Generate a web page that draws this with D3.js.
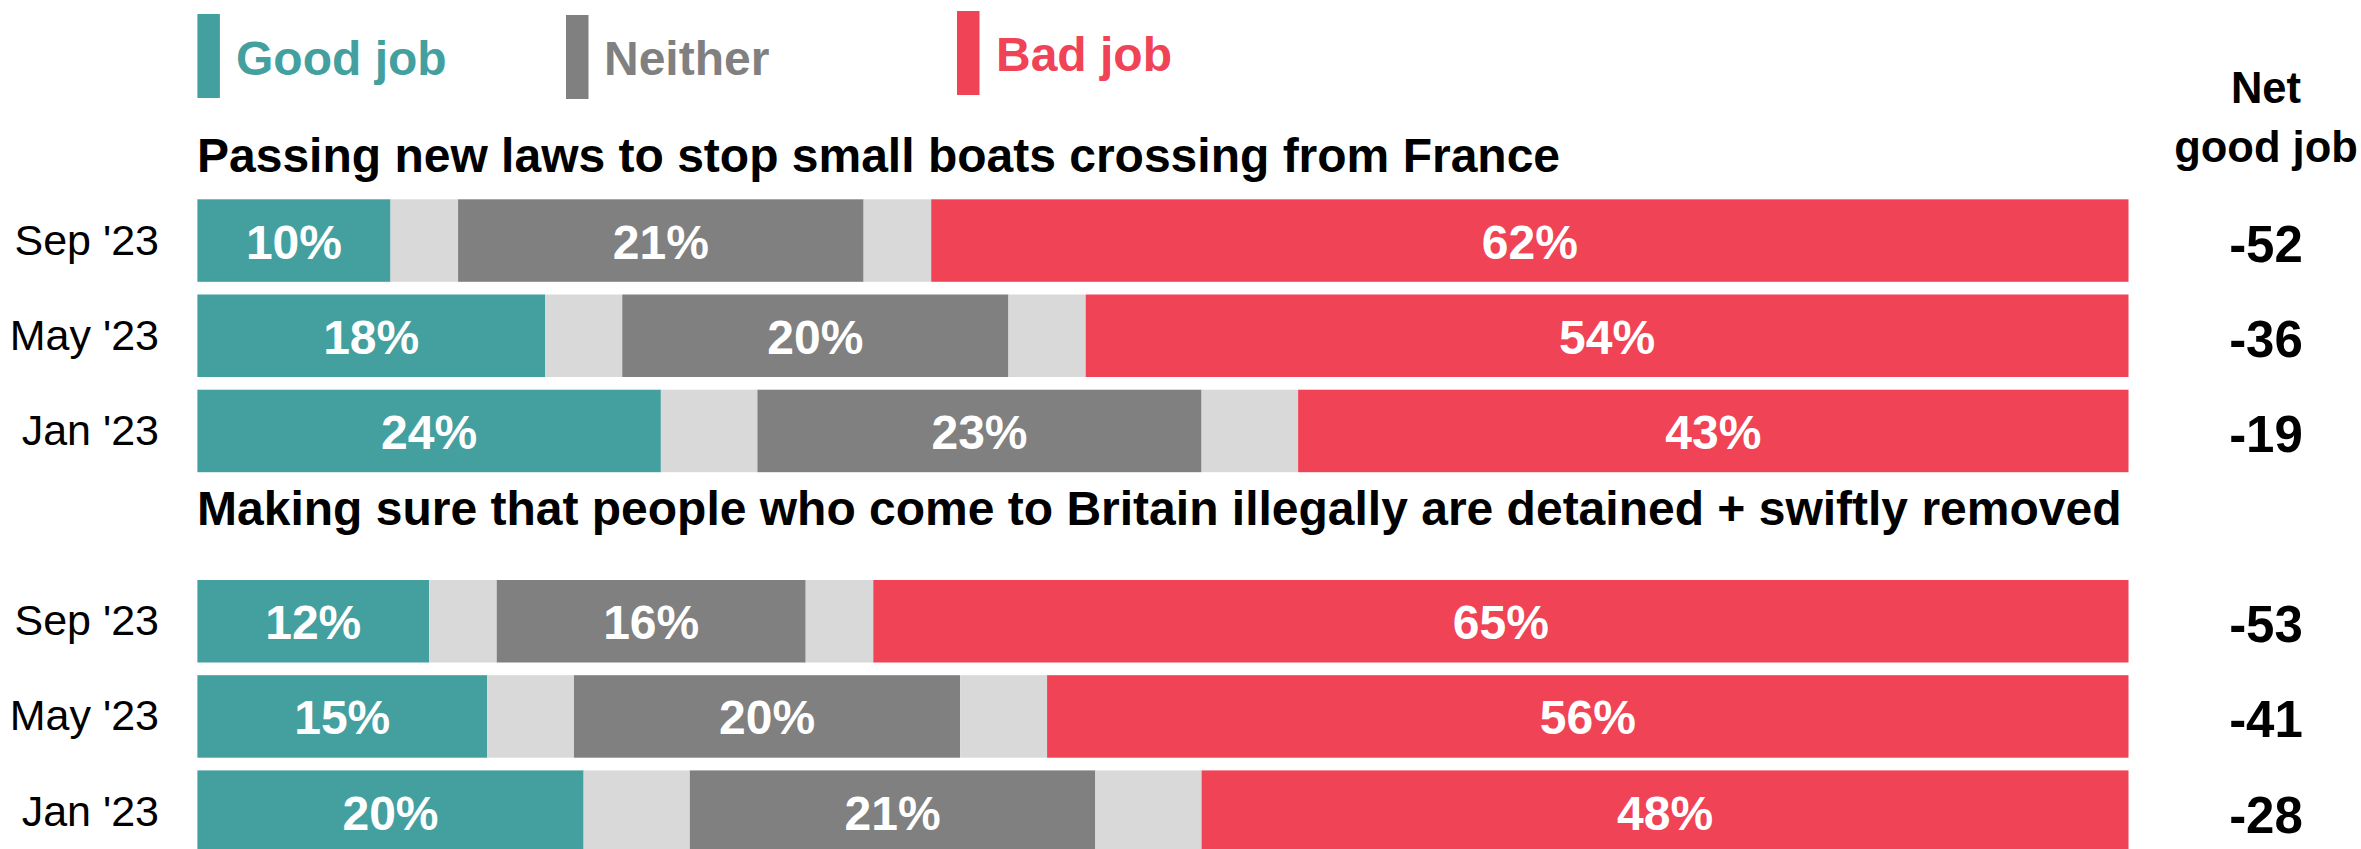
<!DOCTYPE html>
<html>
<head>
<meta charset="utf-8">
<script src="https://cdn.jsdelivr.net/npm/d3@7"></script>
<style>
  html, body { margin: 0; padding: 0; background: #ffffff; }
  svg { display: block; font-family: "Liberation Sans", Arial, sans-serif; }
</style>
</head>
<body>
<svg id="chart" width="2361" height="849"></svg>
<script>
// ---- data ----
const periods = ["Sep '23", "May '23", "Jan '23"];
const questions = [
  "Passing new laws to stop small boats crossing from France",
  "Making sure that people who come to Britain illegally are detained + swiftly removed"
];
const goodJob1 = [10, 18, 24];
const neither1 = [21, 20, 23];
const badJob1  = [62, 54, 43];
const net1     = [-52, -36, -19];
const goodJob2 = [12, 15, 20];
const neither2 = [16, 20, 21];
const badJob2  = [65, 56, 48];
const net2     = [-53, -41, -28];
const legendLabels = ["Good job", "Neither", "Bad job"];
const netHeader = ["Net", "good job"];

// ---- styles ----
const COL_GOOD = "#43a09f", COL_NEI = "#808080", COL_BAD = "#f04356", COL_DK = "#d9d9d9";

const svg = d3.select("#chart");
const x = d3.scaleLinear().domain([0, 100]).range([197.4, 2128.5]);

const panels = [
  { title: questions[0], titleY: 172, top: 199.3, good: goodJob1, nei: neither1, bad: badJob1, net: net1 },
  { title: questions[1], titleY: 525, top: 580,   good: goodJob2, nei: neither2, bad: badJob2, net: net2 }
];

// legend
const legendPos = [
  { bx: 197.4, by: 14, tx: 236, ty: 75, c: COL_GOOD },
  { bx: 566,   by: 15, tx: 604, ty: 75, c: COL_NEI },
  { bx: 957,   by: 11, tx: 996, ty: 71, c: COL_BAD }
];
legendLabels.forEach((lab, i) => {
  const p = legendPos[i];
  svg.append("rect").attr("x", p.bx).attr("y", p.by).attr("width", 22.5).attr("height", 84).attr("fill", p.c);
  svg.append("text").attr("x", p.tx).attr("y", p.ty).attr("fill", p.c)
    .attr("font-size", 48).attr("font-weight", "bold").text(lab);
});

// net header
const netX = 2266;
svg.append("text").attr("x", netX).attr("y", 103).attr("text-anchor", "middle")
  .attr("font-size", 43.5).attr("font-weight", "bold").attr("fill", "#000").text(netHeader[0]);
svg.append("text").attr("x", netX).attr("y", 162).attr("text-anchor", "middle")
  .attr("font-size", 43.5).attr("font-weight", "bold").attr("fill", "#000").text(netHeader[1]);

panels.forEach(pn => {
  const step = 95.2, bar = 82.5;
  const y = d3.scaleBand().domain(periods)
    .range([pn.top, pn.top + step * (periods.length - 1) + bar])
    .paddingInner((step - bar) / step).paddingOuter(0).align(0);

  svg.append("text").attr("x", 197).attr("y", pn.titleY)
    .attr("font-size", 48).attr("font-weight", "bold").attr("fill", "#000").text(pn.title);

  periods.forEach((per, i) => {
    const g = pn.good[i], n = pn.nei[i], b = pn.bad[i];
    const dkHalf = (100 - g - n - b) / 2;
    const segs = [
      { v: g, c: COL_GOOD, lab: g + "%" },
      { v: dkHalf, c: COL_DK, lab: null },
      { v: n, c: COL_NEI, lab: n + "%" },
      { v: dkHalf, c: COL_DK, lab: null },
      { v: b, c: COL_BAD, lab: b + "%" }
    ];
    let cum = 0;
    const yy = y(per), bh = y.bandwidth(), cy = yy + bh / 2;
    segs.forEach(s => {
      const x0 = x(cum), x1 = x(cum + s.v);
      svg.append("rect").attr("x", x0).attr("y", yy).attr("width", x1 - x0).attr("height", bh).attr("fill", s.c);
      if (s.lab) {
        svg.append("text").attr("x", (x0 + x1) / 2).attr("y", cy + 18)
          .attr("text-anchor", "middle").attr("font-size", 48).attr("font-weight", "bold")
          .attr("fill", "#fff").text(s.lab);
      }
      cum += s.v;
    });
    svg.append("text").attr("x", 159).attr("y", cy + 14).attr("text-anchor", "end")
      .attr("font-size", 43).attr("fill", "#000").text(per);
    svg.append("text").attr("x", netX).attr("y", cy + 21).attr("text-anchor", "middle")
      .attr("font-size", 51).attr("font-weight", "bold").attr("fill", "#000").text(pn.net[i]);
  });
});
</script>
</body>
</html>
